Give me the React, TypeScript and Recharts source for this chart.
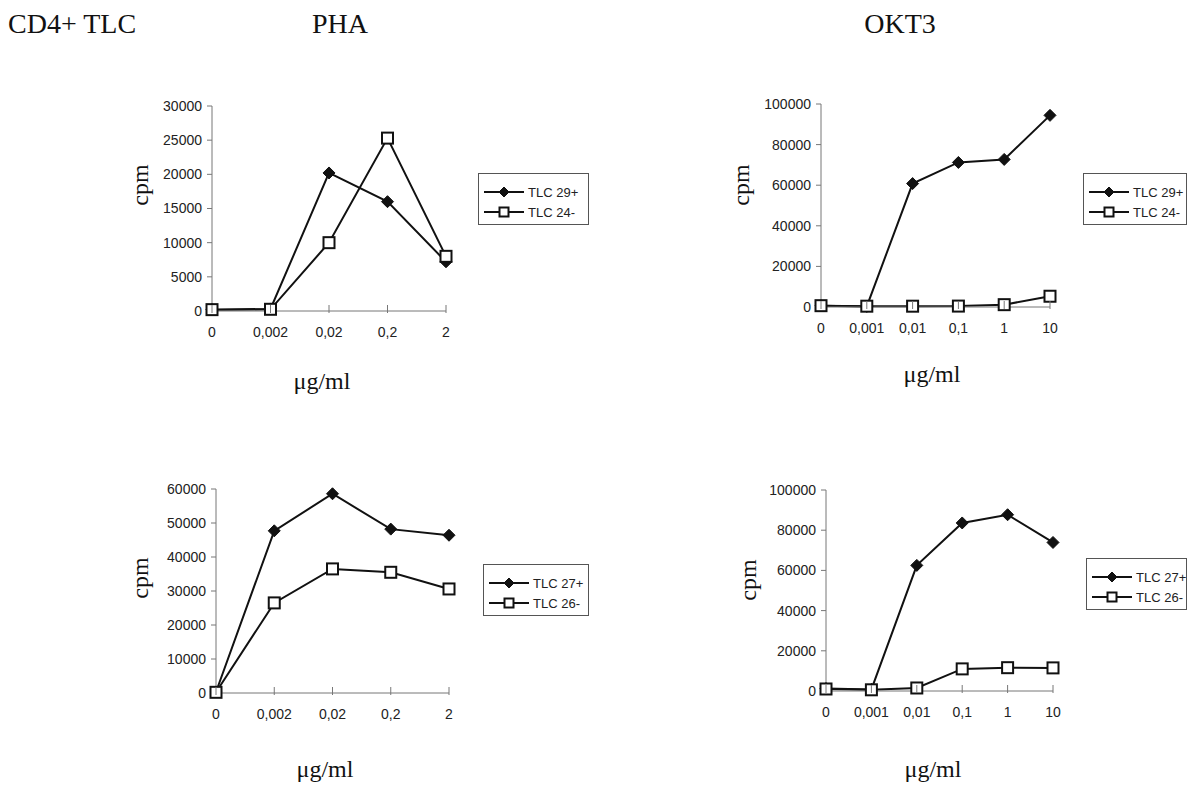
import { Line, LineChart, XAxis, YAxis } from "recharts";

const SANS = "'Liberation Sans', Arial, sans-serif";
const SERIF = "'Liberation Serif', 'Times New Roman', serif";

// doses (µg/ml) on the x axis
const phaDoses = ["0", "0,002", "0,02", "0,2", "2"];
const okt3Doses = ["0", "0,001", "0,01", "0,1", "1", "10"];

// y ticks
const phaTopTicks = [0, 5000, 10000, 15000, 20000, 25000, 30000];
const phaBottomTicks = [0, 10000, 20000, 30000, 40000, 50000, 60000];
const okt3Ticks = [0, 20000, 40000, 60000, 80000, 100000];

// cpm values
const pha29 = [200, 300, 20200, 16000, 7200];
const pha24 = [200, 250, 10000, 25300, 8000];
const okt29 = [600, 300, 60800, 71200, 72700, 94400];
const okt24 = [650, 400, 400, 450, 1150, 5300];
const pha27 = [300, 47700, 58600, 48200, 46400];
const pha26 = [200, 26500, 36500, 35500, 30600];
const okt27 = [1200, 800, 62500, 83600, 87700, 73900];
const okt26 = [1000, 600, 1500, 11000, 11600, 11500];

type Marker = "diamond" | "square";
interface Series {
  key: string;
  name: string;
  values: number[];
  marker: Marker;
}

function MarkerShape({ cx, cy, marker, r = 6 }: { cx: number; cy: number; marker: Marker; r?: number }) {
  if (marker === "diamond") {
    return (
      <polygon
        points={`${cx},${cy - r} ${cx + r},${cy} ${cx},${cy + r} ${cx - r},${cy}`}
        fill="#111"
        stroke="#111"
        strokeWidth={1}
      />
    );
  }
  const h = r - 0.5;
  return <rect x={cx - h} y={cy - h} width={h * 2} height={h * 2} fill="#fff" stroke="#111" strokeWidth={2} />;
}

function DoseTick(props: any) {
  const { x, y, payload } = props;
  const axisY = y - 16;
  return (
    <g>
      <line x1={x} x2={x} y1={axisY - 6} y2={axisY + 2} stroke="#777" strokeWidth={1} />
      <text x={x} y={y} dy="0.71em" textAnchor="middle" fontSize={14} fill="#222" fontFamily={SANS}>
        {payload.value}
      </text>
    </g>
  );
}

function LegendBox({ series, left, top, width }: { series: Series[]; left: number; top: number; width: number }) {
  return (
    <div
      style={{
        position: "absolute",
        left,
        top,
        width,
        boxSizing: "border-box",
        border: "1px solid #555",
        background: "#fff",
        padding: "8px 0 2px 5px",
        fontFamily: SANS,
        fontSize: 13,
        color: "#222",
        whiteSpace: "nowrap",
      }}
    >
      {series.map((s) => (
        <div key={s.key} style={{ display: "flex", alignItems: "center", height: 20 }}>
          <svg width={40} height={14} style={{ marginRight: 4, flexShrink: 0 }}>
            <line x1={0} x2={40} y1={7} y2={7} stroke="#111" strokeWidth={2} />
            <MarkerShape cx={20} cy={7} marker={s.marker} r={5} />
          </svg>
          <span>{s.name}</span>
        </div>
      ))}
    </div>
  );
}

function Panel({
  x0,
  x1,
  y0,
  y1,
  doses,
  series,
  ticks,
  legend,
}: {
  x0: number;
  x1: number;
  y0: number;
  y1: number;
  doses: string[];
  series: Series[];
  ticks: number[];
  legend: { left: number; top: number; width: number };
}) {
  const data = doses.map((dose, i) => {
    const row: Record<string, string | number> = { dose };
    series.forEach((s) => (row[s.key] = s.values[i]));
    return row;
  });
  const width = x1 - x0 + 80;
  const height = y1 - y0 + 16 + 30;
  return (
    <>
      <div style={{ position: "absolute", left: x0 - 70, top: y0 - 16 }}>
        <LineChart width={width} height={height} data={data} margin={{ top: 16, right: 10, left: 10, bottom: 0 }}>
          <XAxis
            dataKey="dose"
            height={30}
            stroke="#777"
            tickLine={false}
            tickSize={5}
            tickMargin={11}
            tick={<DoseTick />}
            interval={0}
          />
          <YAxis
            width={60}
            domain={[0, ticks[ticks.length - 1]]}
            ticks={ticks}
            interval={0}
            stroke="#777"
            tickSize={5}
            tickMargin={5}
            tick={{ fontSize: 14, fill: "#222", fontFamily: SANS }}
          />
          {series.map((s) => (
            <Line
              key={s.key}
              dataKey={s.key}
              name={s.name}
              type="linear"
              stroke="#111"
              strokeWidth={2}
              isAnimationActive={false}
              dot={(p: any) => <MarkerShape key={`${s.key}-${p.index}`} cx={p.cx} cy={p.cy} marker={s.marker} />}
            />
          ))}
        </LineChart>
      </div>
      <LegendBox series={series} {...legend} />
    </>
  );
}

function Labels() {
  const cpm = [
    [140, 185],
    [741, 185],
    [140, 578],
    [748, 580],
  ];
  const unit = [
    [322, 389],
    [932, 382],
    [325, 777],
    [933, 777],
  ];
  return (
    <svg width={1188} height={787} style={{ position: "absolute", left: 0, top: 0 }}>
      <g fontFamily={SERIF} fill="#111">
        <text x={8} y={33} fontSize={28}>
          CD4+ TLC
        </text>
        <text x={340} y={33} fontSize={28} textAnchor="middle">
          PHA
        </text>
        <text x={900} y={33} fontSize={28} textAnchor="middle">
          OKT3
        </text>
        {cpm.map(([x, y], i) => (
          <text
            key={`c${i}`}
            x={x}
            y={y}
            fontSize={24}
            textAnchor="middle"
            dominantBaseline="central"
            transform={`rotate(-90, ${x}, ${y})`}
          >
            cpm
          </text>
        ))}
        {unit.map(([x, y], i) => (
          <text key={`u${i}`} x={x} y={y} fontSize={24} textAnchor="middle">
            μg/ml
          </text>
        ))}
      </g>
    </svg>
  );
}

export default function App() {
  return (
    <div style={{ position: "absolute", left: 0, top: 0, width: 1188, height: 787, background: "#fff" }}>
      <Labels />
      <Panel
        x0={212}
        x1={446}
        y0={106}
        y1={311}
        doses={phaDoses}
        ticks={phaTopTicks}
        series={[
          { key: "a", name: "TLC 29+", values: pha29, marker: "diamond" },
          { key: "b", name: "TLC 24-", values: pha24, marker: "square" },
        ]}
        legend={{ left: 478, top: 173, width: 111 }}
      />
      <Panel
        x0={821}
        x1={1050}
        y0={104}
        y1={307}
        doses={okt3Doses}
        ticks={okt3Ticks}
        series={[
          { key: "a", name: "TLC 29+", values: okt29, marker: "diamond" },
          { key: "b", name: "TLC 24-", values: okt24, marker: "square" },
        ]}
        legend={{ left: 1083, top: 173, width: 104 }}
      />
      <Panel
        x0={216}
        x1={449}
        y0={489}
        y1={693}
        doses={phaDoses}
        ticks={phaBottomTicks}
        series={[
          { key: "a", name: "TLC 27+", values: pha27, marker: "diamond" },
          { key: "b", name: "TLC 26-", values: pha26, marker: "square" },
        ]}
        legend={{ left: 483, top: 564, width: 106 }}
      />
      <Panel
        x0={826}
        x1={1053}
        y0={490}
        y1={691}
        doses={okt3Doses}
        ticks={okt3Ticks}
        series={[
          { key: "a", name: "TLC 27+", values: okt27, marker: "diamond" },
          { key: "b", name: "TLC 26-", values: okt26, marker: "square" },
        ]}
        legend={{ left: 1086, top: 558, width: 101 }}
      />
    </div>
  );
}
